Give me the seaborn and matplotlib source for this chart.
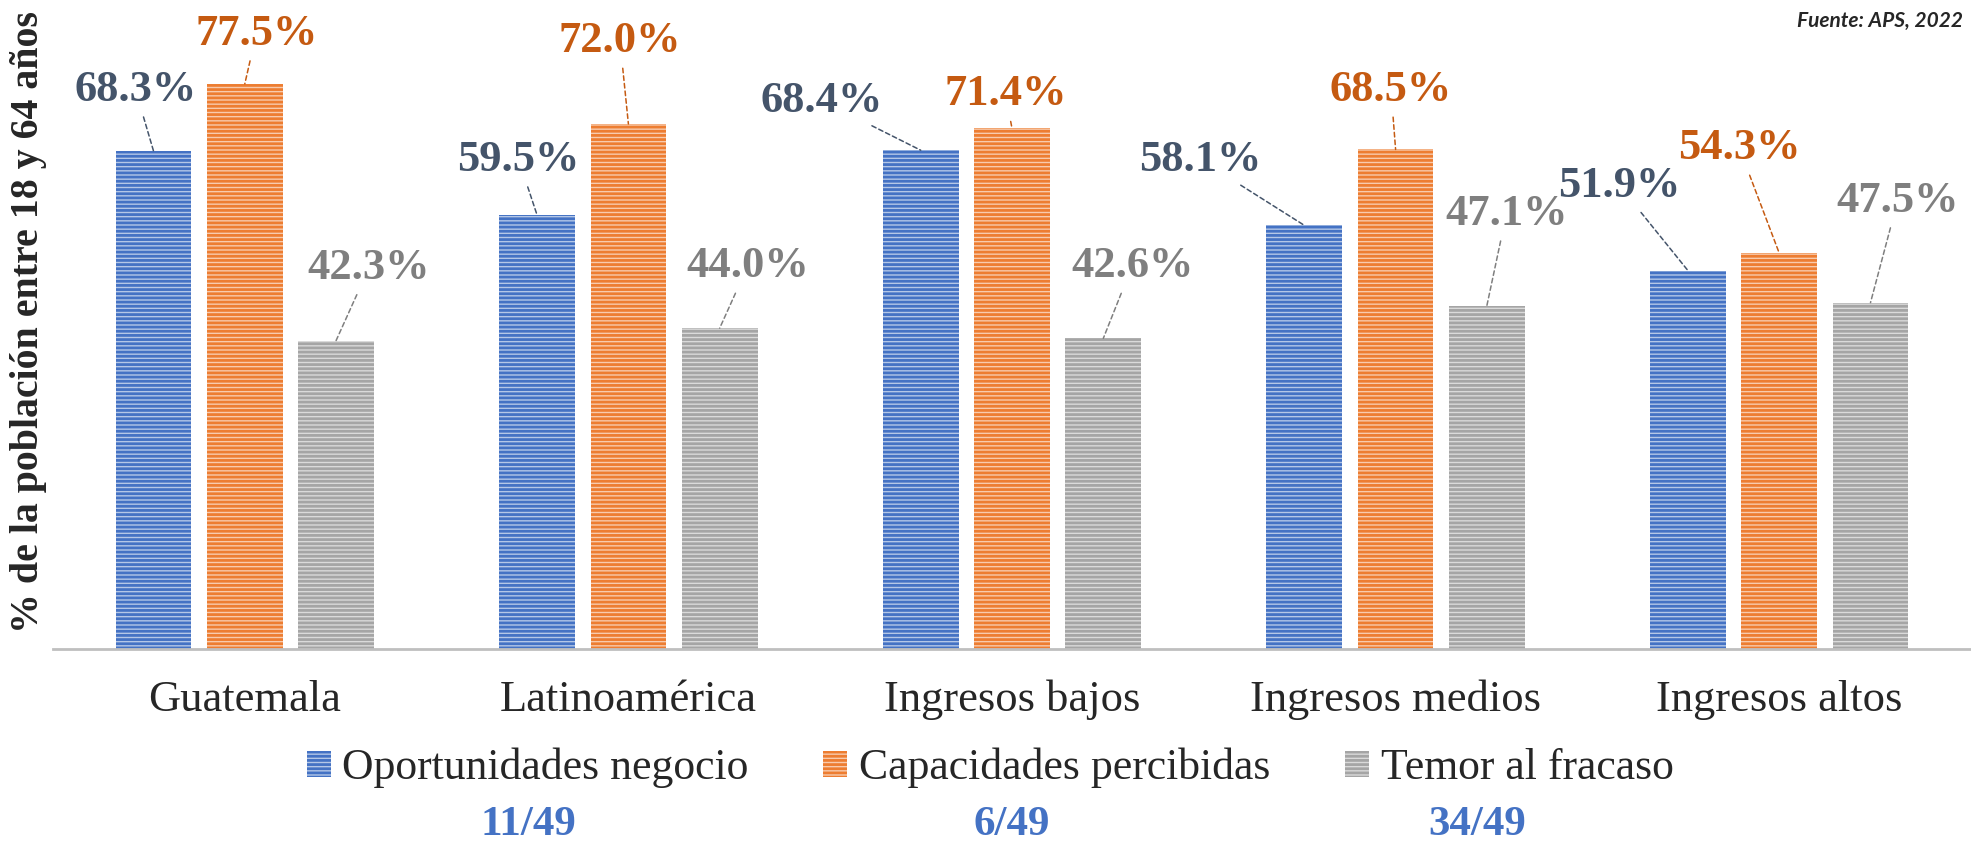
import seaborn as sns
import matplotlib.pyplot as plt
import pandas as pd
from matplotlib.patches import Patch

# datos (APS 2022)
categorias = ['Guatemala', 'Latinoamérica', 'Ingresos bajos', 'Ingresos medios', 'Ingresos altos']
series = ['Oportunidades negocio', 'Capacidades percibidas', 'Temor al fracaso']
oportunidades = [68.3, 59.5, 68.4, 58.1, 51.9]
capacidades = [77.5, 72.0, 71.4, 68.5, 54.3]
temor = [42.3, 44.0, 42.6, 47.1, 47.5]
posiciones = ['11/49', '6/49', '34/49']

# estilo
base = ['#4472C4', '#ED7D31', '#A5A5A5']
fondo = ['#B4C7E7', '#F8CBAD', '#DADADA']
texto_col = ['#44546A', '#C55A11', '#7F7F7F']

# desplazamiento de cada etiqueta respecto al tope de su barra (dx, dy)
desp = [
    [(-0.047, 8.4), (-0.048, 7.6), (-0.258, 6.8), (-0.271, 9.0), (-0.178, 11.6)],
    [(0.030, 6.9), (-0.022, 11.4), (-0.017, 4.7), (-0.012, 8.2), (-0.104, 14.4)],
    [(0.086, 10.0), (0.073, 8.5), (0.075, 9.9), (0.051, 12.6), (0.071, 14.0)],
]

df = pd.DataFrame({
    'categoria': categorias * 3,
    'serie': [s for s in series for _ in categorias],
    'valor': oportunidades + capacidades + temor,
})

sns.set_style('white')
plt.rcParams['font.family'] = ['Liberation Serif', 'DejaVu Serif']
plt.rcParams['hatch.linewidth'] = 2.0

W, H = 1971, 847
fig = plt.figure(figsize=(W / 100, H / 100), dpi=100)
ax = fig.add_axes([53 / W, 1 - 649 / H, (W - 53) / W, 649 / H])

sns.barplot(data=df, x='categoria', y='valor', hue='serie', hue_order=series,
            palette=base, width=0.714, gap=0.17, saturation=1, legend=False, ax=ax)

for i, cont in enumerate(ax.containers):
    for j, bar in enumerate(cont):
        bar.set_facecolor(fondo[i])
        bar.set_edgecolor(base[i])
        bar.set_hatch('----')
        bar.set_linewidth(0)
        x = bar.get_x() + bar.get_width() / 2
        h = bar.get_height()
        dx, dy = desp[i][j]
        ax.annotate(f'{h:.1f}%', xy=(x, h), xytext=(x + dx, h + dy), textcoords='data',
                    ha='center', va='center', fontsize=32, fontweight='bold', color=texto_col[i],
                    arrowprops=dict(arrowstyle='-', color=texto_col[i], lw=1.1,
                                    linestyle=(0, (3, 2)), shrinkA=3, shrinkB=0))

ax.set_xlim(-0.5, 4.5)
ax.set_ylim(0, 89)
ax.set_yticks([])
ax.set_xlabel('')
ax.tick_params(axis='x', length=0, labelsize=32, pad=22)
for s in ['top', 'right', 'left']:
    ax.spines[s].set_visible(False)
ax.spines['bottom'].set_color('#BFBFBF')
ax.spines['bottom'].set_linewidth(2)

ax.set_ylabel('% de la población entre 18 y 64 años', fontsize=28.7, fontweight='bold', va='center')
ax.yaxis.set_label_coords((29 - 53) / (W - 53), (649 - 322) / 649)

handles = [Patch(facecolor=fondo[i], edgecolor=base[i], hatch='----', linewidth=0) for i in range(3)]
fig.legend(handles, series, loc='center', bbox_to_anchor=(990 / W, 1 - 768 / H), ncol=3,
           frameon=False, fontsize=31.5, handlelength=0.55, handleheight=0.55,
           handletextpad=0.27, columnspacing=1.7, borderpad=0)

for xp, t in zip([528, 1012, 1477], posiciones):
    fig.text(xp / W, 3 / H, t, ha='center', va='bottom', fontsize=31,
             fontweight='bold', color='#4472C4')

fig.text(1 - 8 / W, 1 - 21 / H, 'Fuente: APS, 2022', ha='right', va='center',
         family='Lato', style='italic', fontweight='bold', fontsize=15)

fig.savefig('out.png', dpi=100)
